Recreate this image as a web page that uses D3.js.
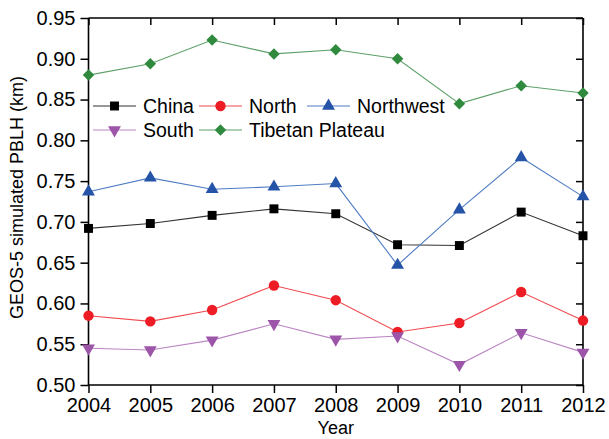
<!DOCTYPE html>
<html>
<head>
<meta charset="utf-8">
<script src="https://cdn.jsdelivr.net/npm/d3@7/dist/d3.min.js"></script>
<style>
  html, body { margin: 0; padding: 0; background: #fff; }
  svg { display: block; font-family: Arial, "Liberation Sans", sans-serif; }
</style>
</head>
<body>
<svg id="chart" width="609" height="439"></svg>
<script>
// Annual mean simulated boundary-layer height by region
const years = [2004, 2005, 2006, 2007, 2008, 2009, 2010, 2011, 2012];
const china     = [0.692, 0.698, 0.708, 0.716, 0.710, 0.672, 0.671, 0.712, 0.683];
const north     = [0.585, 0.578, 0.592, 0.622, 0.604, 0.565, 0.576, 0.614, 0.579];
const northwest = [0.737, 0.754, 0.740, 0.743, 0.747, 0.647, 0.715, 0.779, 0.731];
const south     = [0.545, 0.543, 0.555, 0.575, 0.556, 0.560, 0.525, 0.564, 0.540];
const tibetan   = [0.880, 0.894, 0.923, 0.906, 0.911, 0.900, 0.845, 0.867, 0.858];
const yTicks = [0.50, 0.55, 0.60, 0.65, 0.70, 0.75, 0.80, 0.85, 0.90, 0.95];

const series = [
  { name: "China",           values: china,     color: "#000000", line: "#333333", symbol: d3.symbolSquare,   size: 80 },
  { name: "North",           values: north,     color: "#ee1d25", line: "#f04a50", symbol: d3.symbolCircle,   size: 85 },
  { name: "Northwest",       values: northwest, color: "#2453a8", line: "#4f7cc4", symbol: d3.symbolTriangle, size: 72, rot: 0 },
  { name: "South",           values: south,     color: "#9c55a8", line: "#bb86c3", symbol: d3.symbolTriangle, size: 72, rot: 180 },
  { name: "Tibetan Plateau", values: tibetan,   color: "#2f8a3e", line: "#5ea06a", symbol: d3.symbolSquare,   size: 66, rot: 45 }
];

const svg = d3.select("#chart");
const m = { left: 88.5, right: 583, top: 18, bottom: 385 };

const x = d3.scaleLinear().domain([2004, 2012]).range([m.left, m.right]);
const y = d3.scaleLinear().domain([0.50, 0.95]).range([m.bottom, m.top]);

const tickFont = 20;
const legendFont = 19.5;

// Bottom axis (outward ticks)
const gx = svg.append("g").attr("transform", `translate(0,${m.bottom})`)
  .call(d3.axisBottom(x).tickValues(years).tickFormat(d3.format("d")).tickSize(8).tickPadding(5));
// Left axis (outward ticks)
const gy = svg.append("g").attr("transform", `translate(${m.left},0)`)
  .call(d3.axisLeft(y).tickValues(yTicks).tickFormat(d3.format(".2f")).tickSize(8).tickPadding(5));
// Top and right mirror axes (inward ticks, no labels)
const gt = svg.append("g").attr("transform", `translate(0,${m.top})`)
  .call(d3.axisBottom(x).tickValues(years).tickFormat("").tickSize(7));
const gr = svg.append("g").attr("transform", `translate(${m.right},0)`)
  .call(d3.axisRight(y).tickValues(yTicks).tickFormat("").tickSize(-7));
gt.selectAll(".tick line").attr("y2", 7);
gr.selectAll(".tick line").attr("x2", -7);

[gx, gy, gt, gr].forEach(g => {
  g.select(".domain").attr("stroke", "#000").attr("stroke-width", 1.6);
  g.selectAll(".tick line").attr("stroke", "#000").attr("stroke-width", 1.5);
  g.selectAll(".tick text").attr("fill", "#000").attr("font-size", tickFont)
    .attr("font-family", "Arial, 'Liberation Sans', sans-serif");
});
gt.select(".domain").attr("d", `M${m.left},0H${m.right}`);
gr.select(".domain").attr("d", `M0,${m.top}V${m.bottom}`);
gx.select(".domain").attr("d", `M${m.left},0H${m.right}`);
gy.select(".domain").attr("d", `M0,${m.bottom}V${m.top}`);

// Axis titles
svg.append("text")
  .attr("x", (m.left + m.right) / 2).attr("y", 434)
  .attr("text-anchor", "middle").attr("font-size", 18).attr("fill", "#000")
  .text("Year");
svg.append("text")
  .attr("transform", `translate(23,${(m.top + m.bottom) / 2 - 4}) rotate(-90)`)
  .attr("text-anchor", "middle").attr("font-size", 18).attr("fill", "#000")
  .text("GEOS-5 simulated PBLH (km)");

// Series lines and markers
const line = d3.line().x((d, i) => x(years[i])).y(d => y(d));
const plot = svg.append("g");
series.forEach(s => {
  plot.append("path").datum(s.values)
    .attr("d", line).attr("fill", "none")
    .attr("stroke", s.line).attr("stroke-width", 1.1);
});
series.forEach(s => {
  plot.append("g").selectAll("path").data(s.values).join("path")
    .attr("d", d3.symbol().type(s.symbol).size(s.size))
    .attr("transform", (d, i) => `translate(${x(years[i])},${y(d)})${s.rot ? ` rotate(${s.rot})` : ""}`)
    .attr("fill", s.color);
});

// Legend
const legendPos = [
  { lx: 93,  ly: 106 }, { lx: 199, ly: 106 }, { lx: 307, ly: 106 },
  { lx: 93,  ly: 130 }, { lx: 199, ly: 130 }
];
series.forEach((s, i) => {
  const p = legendPos[i];
  const g = svg.append("g").attr("transform", `translate(${p.lx},${p.ly})`);
  g.append("line").attr("x1", 0).attr("x2", 43).attr("y1", 0).attr("y2", 0)
    .attr("stroke", s.line).attr("stroke-width", 1.1);
  g.append("path")
    .attr("d", d3.symbol().type(s.symbol).size(s.size))
    .attr("transform", `translate(21.5,0)${s.rot ? ` rotate(${s.rot})` : ""}`)
    .attr("fill", s.color);
  g.append("text").attr("x", 50).attr("y", 0).attr("dy", "0.35em")
    .attr("font-size", legendFont).attr("fill", "#000").text(s.name);
});
</script>
</body>
</html>
